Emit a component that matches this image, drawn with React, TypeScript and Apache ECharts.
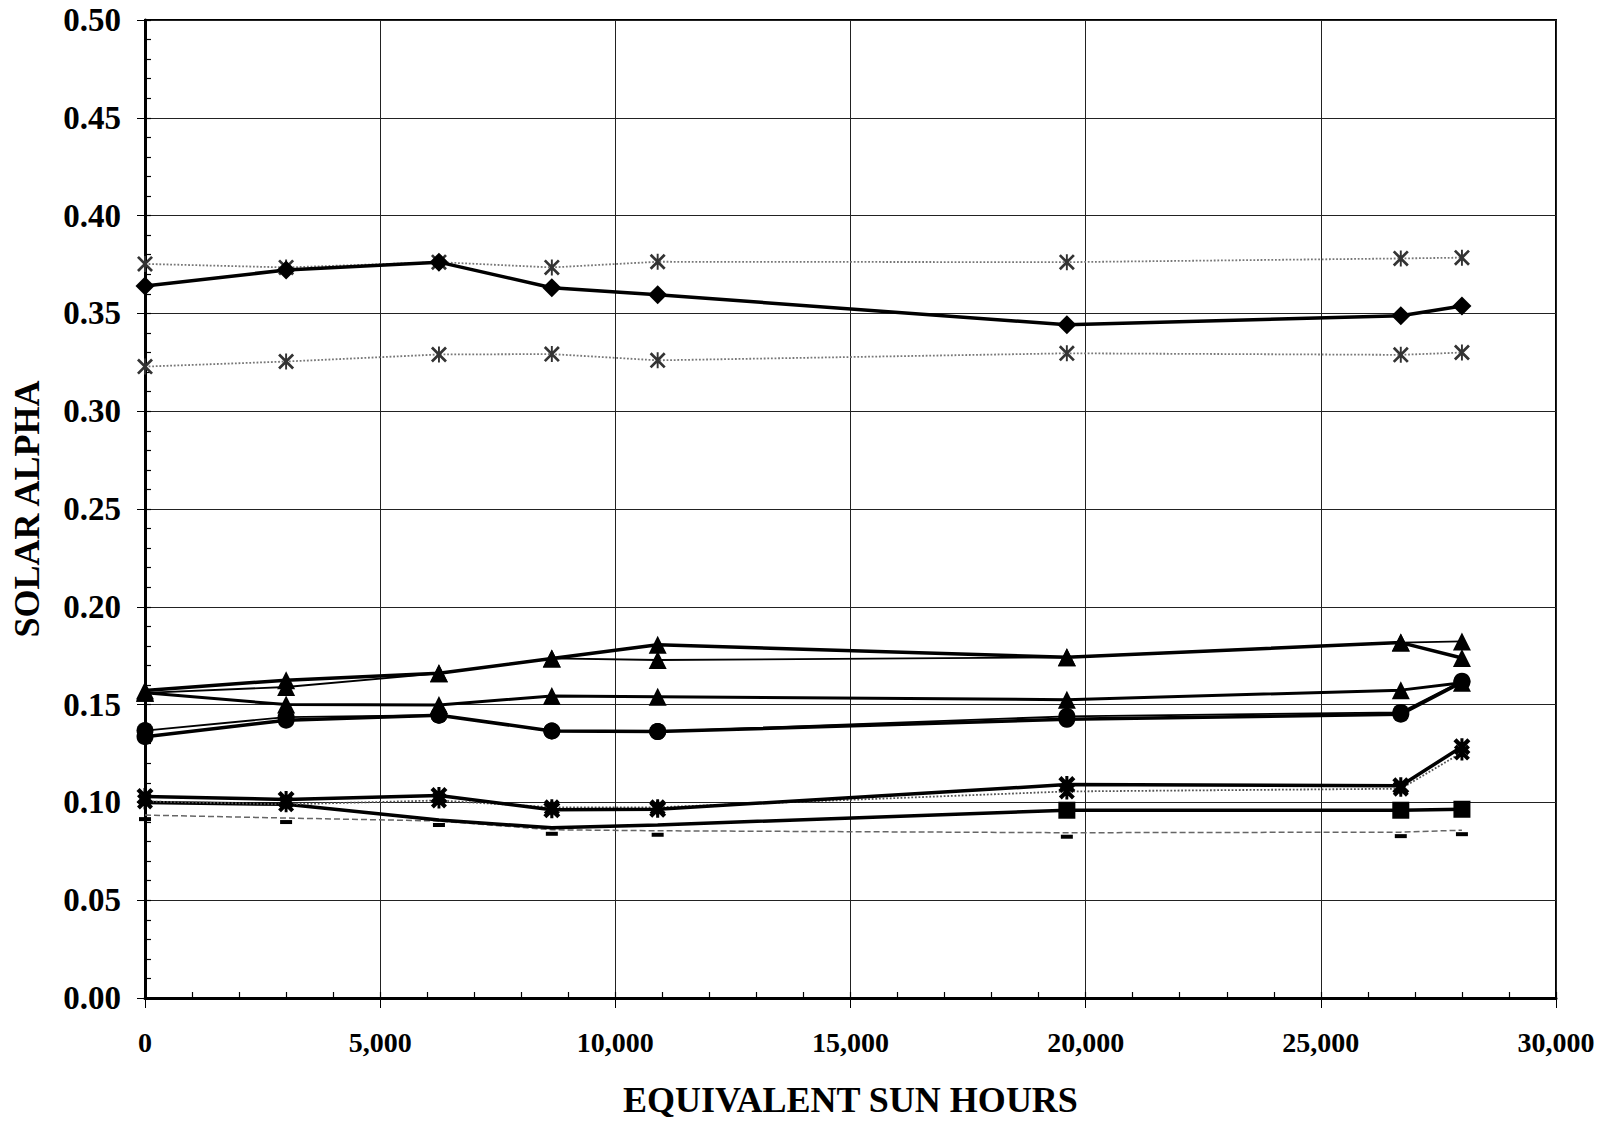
import React, { useEffect, useRef } from "react";
import * as echarts from "echarts";

// Equivalent sun hours (x positions of the measurements)
const hours = [0, 3000, 6250, 8650, 10900, 19600, 26700, 28000];

// Solar alpha values
const diamondVals = [0.364, 0.3722, 0.3762, 0.3631, 0.3595, 0.3442, 0.3488, 0.3538];
const xUpperVals = [0.3753, 0.3735, 0.3762, 0.3735, 0.3764, 0.3762, 0.3781, 0.3785];
const xLowerVals = [0.3228, 0.3254, 0.329, 0.3292, 0.326, 0.3296, 0.3288, 0.33];
const triThickVals = [0.1572, 0.1625, 0.166, 0.1736, 0.1806, 0.1742, 0.1817, 0.1738];
const triThinVals = [0.156, 0.159, 0.166, 0.1736, 0.1728, 0.1742, 0.1817, 0.1823];
const triMidVals = [0.156, 0.15, 0.1498, 0.1544, 0.154, 0.1525, 0.1574, 0.1612];
const circleThickVals = [0.1336, 0.142, 0.1446, 0.1365, 0.1362, 0.1425, 0.1451, 0.1615];
const circleThinVals = [0.1367, 0.1436, 0.1446, 0.1365, 0.1362, 0.144, 0.146, 0.162];
const starThickVals = [0.103, 0.1015, 0.1035, 0.0962, 0.0965, 0.1091, 0.1085, 0.1285];
const starThinVals = [0.1005, 0.099, 0.101, 0.0975, 0.0975, 0.1056, 0.107, 0.1255];
const squareVals = [0.1, 0.099, 0.091, 0.087, 0.0885, 0.096, 0.096, 0.0965];
const dashVals = [0.0935, 0.092, 0.0905, 0.086, 0.0855, 0.0845, 0.0848, 0.0858];

// Which square points show a visible square marker
const squareMarkerShown = [false, false, false, false, false, true, true, true];

const xTicks = { min: 0, max: 30000, major: 5000, minor: 1000 };
const yTicks = { min: 0, max: 0.5, major: 0.05, minor: 0.01 };

const SERIF = "'Liberation Serif', 'Times New Roman', serif";

const X_SYMBOL =
  "path://M0,1.2L1.2,0L10,8.8L8.8,10Z M8.8,0L10,1.2L1.2,10L0,8.8Z M4.4,0L5.6,0L5.6,10L4.4,10Z";
const STAR_SYMBOL =
  "path://M0,1.8L1.8,0L10,8.2L8.2,10Z M8.2,0L10,1.8L1.8,10L0,8.2Z M4.1,0L5.9,0L5.9,10L4.1,10Z";

function pts(vals: number[]) {
  return hours.map((h, i) => [h, vals[i]]);
}

function withCommas(v: number) {
  return String(v).replace(/\B(?=(\d{3})+(?!\d))/g, ",");
}

export default function App() {
  const ref = useRef<HTMLDivElement>(null);

  useEffect(() => {
    if (!ref.current) return;
    const chart = echarts.init(ref.current, null, { renderer: "svg" });

    const lineSeries = (
      name: string,
      vals: number[],
      opts: {
        color: string;
        width: number;
        type?: string;
        symbol: string;
        size: number | number[];
        symbolColor?: string;
        offset?: number[];
        z?: number;
      }
    ) => ({
      name,
      type: "line",
      data: pts(vals),
      symbol: opts.symbol,
      symbolSize: opts.size,
      symbolOffset: opts.offset || [0, 0],
      showAllSymbol: true,
      z: opts.z || 2,
      lineStyle: { color: opts.color, width: opts.width, type: opts.type || "solid" },
      itemStyle: { color: opts.symbolColor || "#000", borderWidth: 0 },
      emphasis: { disabled: true },
    });

    const squareData = hours.map((h, i) =>
      squareMarkerShown[i] ? [h, squareVals[i]] : { value: [h, squareVals[i]], symbol: "none" }
    );

    chart.setOption({
      animation: false,
      backgroundColor: "#fff",
      grid: {
        left: 145,
        right: 48,
        top: 20,
        bottom: 125,
        show: true,
        borderColor: "#000",
        borderWidth: 2,
        backgroundColor: "transparent",
      },
      xAxis: [
        {
          type: "value",
          min: xTicks.min,
          max: xTicks.max,
          interval: xTicks.major,
          position: "bottom",
          axisLine: { show: true, onZero: false, lineStyle: { color: "#000", width: 3 } },
          axisTick: { show: true, inside: false, length: 10, lineStyle: { color: "#000", width: 1 } },
          axisLabel: {
            formatter: (v: number) => withCommas(v),
            fontFamily: SERIF,
            fontWeight: "bold",
            fontSize: 28,
            color: "#000",
            margin: 30,
          },
          splitLine: { show: true, lineStyle: { color: "#222", width: 1 } },
          name: "EQUIVALENT SUN HOURS",
          nameLocation: "middle",
          nameGap: 84,
          nameTextStyle: { fontFamily: SERIF, fontWeight: "bold", fontSize: 36, color: "#000" },
        },
        {
          type: "value",
          min: xTicks.min,
          max: xTicks.max,
          interval: xTicks.minor,
          position: "bottom",
          axisLine: { show: false, onZero: false },
          axisTick: { show: true, inside: true, length: 6, lineStyle: { color: "#000", width: 1.2 } },
          axisLabel: { show: false },
          splitLine: { show: false },
        },
      ],
      yAxis: [
        {
          type: "value",
          min: yTicks.min,
          max: yTicks.max,
          interval: yTicks.major,
          position: "left",
          axisLine: { show: true, onZero: false, lineStyle: { color: "#000", width: 3 } },
          axisTick: { show: true, inside: false, length: 8, lineStyle: { color: "#000", width: 1 } },
          axisLabel: {
            formatter: (v: number) => v.toFixed(2),
            fontFamily: SERIF,
            fontWeight: "bold",
            fontSize: 33,
            color: "#000",
            margin: 24,
          },
          splitLine: { show: true, lineStyle: { color: "#222", width: 1 } },
          name: "SOLAR ALPHA",
          nameLocation: "middle",
          nameGap: 100,
          nameRotate: 90,
          nameTextStyle: { fontFamily: SERIF, fontWeight: "bold", fontSize: 36, color: "#000" },
        },
        {
          type: "value",
          min: yTicks.min,
          max: yTicks.max,
          interval: yTicks.minor,
          position: "left",
          axisLine: { show: false, onZero: false },
          axisTick: { show: true, inside: true, length: 6, lineStyle: { color: "#000", width: 1.2 } },
          axisLabel: { show: false },
          splitLine: { show: false },
        },
      ],
      series: [
        lineSeries("X upper", xUpperVals, {
          color: "#777", width: 1.8, type: "dotted", symbol: X_SYMBOL, size: 16, symbolColor: "#333", z: 2,
        }),
        lineSeries("X lower", xLowerVals, {
          color: "#777", width: 1.8, type: "dotted", symbol: X_SYMBOL, size: 16, symbolColor: "#333", z: 2,
        }),
        lineSeries("Diamond", diamondVals, {
          color: "#000", width: 3.5, symbol: "diamond", size: 19, z: 3,
        }),
        lineSeries("Dash", dashVals, {
          color: "#666", width: 1.5, type: "dashed", symbol: "rect", size: [12, 4], offset: [0, 4], z: 2,
        }),
        {
          name: "Square",
          type: "line",
          data: squareData,
          symbol: "rect",
          symbolSize: 17,
          showAllSymbol: true,
          z: 3,
          lineStyle: { color: "#000", width: 3.5 },
          itemStyle: { color: "#000" },
          emphasis: { disabled: true },
        },
        lineSeries("Star thin", starThinVals, {
          color: "#555", width: 1.8, type: "dotted", symbol: STAR_SYMBOL, size: 16, z: 3,
        }),
        lineSeries("Star thick", starThickVals, {
          color: "#000", width: 3.5, symbol: STAR_SYMBOL, size: 17, z: 4,
        }),
        lineSeries("Circle thin", circleThinVals, {
          color: "#000", width: 1.8, symbol: "circle", size: 17, z: 3,
        }),
        lineSeries("Circle thick", circleThickVals, {
          color: "#000", width: 3.5, symbol: "circle", size: 17, z: 4,
        }),
        lineSeries("Triangle mid", triMidVals, {
          color: "#000", width: 3, symbol: "triangle", size: 18, z: 3,
        }),
        lineSeries("Triangle thin", triThinVals, {
          color: "#000", width: 1.8, symbol: "triangle", size: 18, z: 3,
        }),
        lineSeries("Triangle thick", triThickVals, {
          color: "#000", width: 3.5, symbol: "triangle", size: 18, z: 4,
        }),
      ],
    });

    return () => {
      chart.dispose();
    };
  }, []);

  return (
    <div
      ref={ref}
      style={{ position: "fixed", left: 0, top: 0, width: 1604, height: 1123, background: "#fff" }}
    />
  );
}
